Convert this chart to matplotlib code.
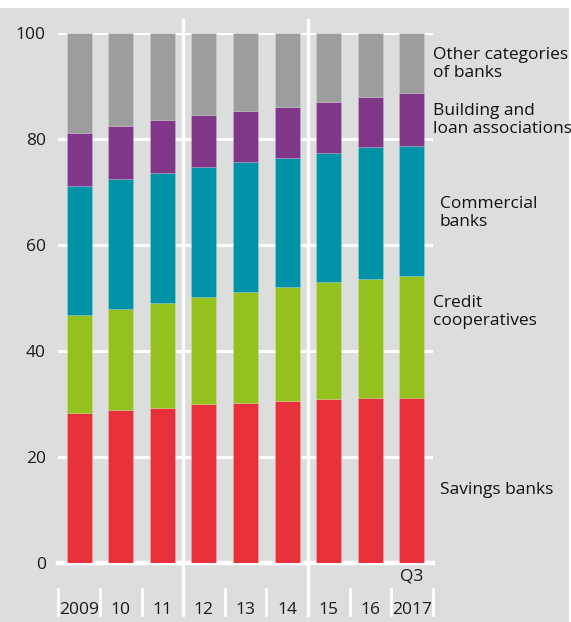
import matplotlib
matplotlib.use('Agg')
import matplotlib.pyplot as plt
from matplotlib.patches import Rectangle
import numpy as np

plt.rcParams['font.family'] = ['Open Sans', 'DejaVu Sans']

# Shares of bank categories, per cent
years = ['2009', '10', '11', '12', '13', '14', '15', '16', '2017']
savings = [28.2, 28.9, 29.2, 29.9, 30.2, 30.5, 30.9, 31.2, 31.2]
credit = [18.6, 19.0, 19.8, 20.2, 21.0, 21.5, 22.2, 22.4, 22.9]
commercial = [24.4, 24.6, 24.6, 24.6, 24.4, 24.4, 24.3, 24.9, 24.7]
building = [10.0, 9.9, 10.0, 9.9, 9.8, 9.7, 9.7, 9.5, 10.0]
other = [18.8, 17.6, 16.4, 15.4, 14.6, 13.9, 12.9, 12.0, 11.2]

series = [savings, credit, commercial, building, other]
colors = ['#e8303a', '#95c11f', '#0093a8', '#803788', '#9c9d9d']
labels = [
    ('Savings banks', 440, 490),
    ('Credit\ncooperatives', 433, 312),
    ('Commercial\nbanks', 440, 213),
    ('Building and\nloan associations', 433, 120),
    ('Other categories\nof banks', 433, 64),
]

W, H = 571, 622
bg = '#dcdddd'
fig = plt.figure(figsize=(W / 100, H / 100), dpi=100)
fig.patch.set_facecolor(bg)
# white band along the top and right edge
fig.patches.append(Rectangle((0, (H - 8) / H), 1, 8 / H, transform=fig.transFigure,
                             facecolor='white', edgecolor='none', zorder=0))
fig.patches.append(Rectangle((569 / W, 0), 2 / W, 1, transform=fig.transFigure,
                             facecolor='white', edgecolor='none', zorder=0))

x0, x1 = 58.3, 432.7
y0, y1 = 562.7, 33.3
ax = fig.add_axes([x0 / W, (H - y0) / H, (x1 - x0) / W, (y0 - y1) / H])
ax.set_facecolor(bg)
for s in ax.spines.values():
    s.set_visible(False)

x = np.arange(len(years))
ax.set_xlim(-0.5, 8.5)
ax.set_ylim(0, 100)

# horizontal gridlines
for v in range(20, 101, 20):
    ax.axhline(v, color='white', lw=2.2, zorder=1)
ax.axhline(0, color='white', lw=3.2, zorder=1, clip_on=False)

bottom = np.zeros(len(years))
for vals, c in zip(series, colors):
    ax.bar(x, vals, width=0.6, bottom=bottom, color=c, edgecolor='#ffffff30',
           linewidth=0.6, zorder=2)
    bottom += np.array(vals)

# separators between period groups
for sep in (2.5, 5.5):
    ax.axvline(sep, ymin=-0.099, ymax=1.025, color='white', lw=2.4,
               zorder=3, clip_on=False)

# short ticks between year labels
for t in (-0.5, 0.5, 1.5, 3.5, 4.5, 6.5, 7.5, 8.5):
    ax.plot([t, t], [-0.0497, -0.099], transform=ax.get_xaxis_transform(),
            color='white', lw=2.0, clip_on=False, zorder=3)

ax.set_xticks([])
ax.set_yticks(range(0, 101, 20))
ax.tick_params(axis='y', length=0, pad=9, labelsize=12.5, labelcolor='#1a1a1a')

for xi, yr in zip(x, years):
    ax.text(xi, -8.95, yr, ha='center', va='center', fontsize=12.5, color='#1a1a1a')
ax.text(8, -2.7, 'Q3', ha='center', va='center', fontsize=12.5, color='#1a1a1a')

for text, px, py in labels:
    fig.text(px / W, (H - py) / H, text, ha='left', va='center', fontsize=12.5,
             color='#111111', linespacing=1.2)

plt.savefig('out.png', dpi=100, facecolor=fig.get_facecolor())
